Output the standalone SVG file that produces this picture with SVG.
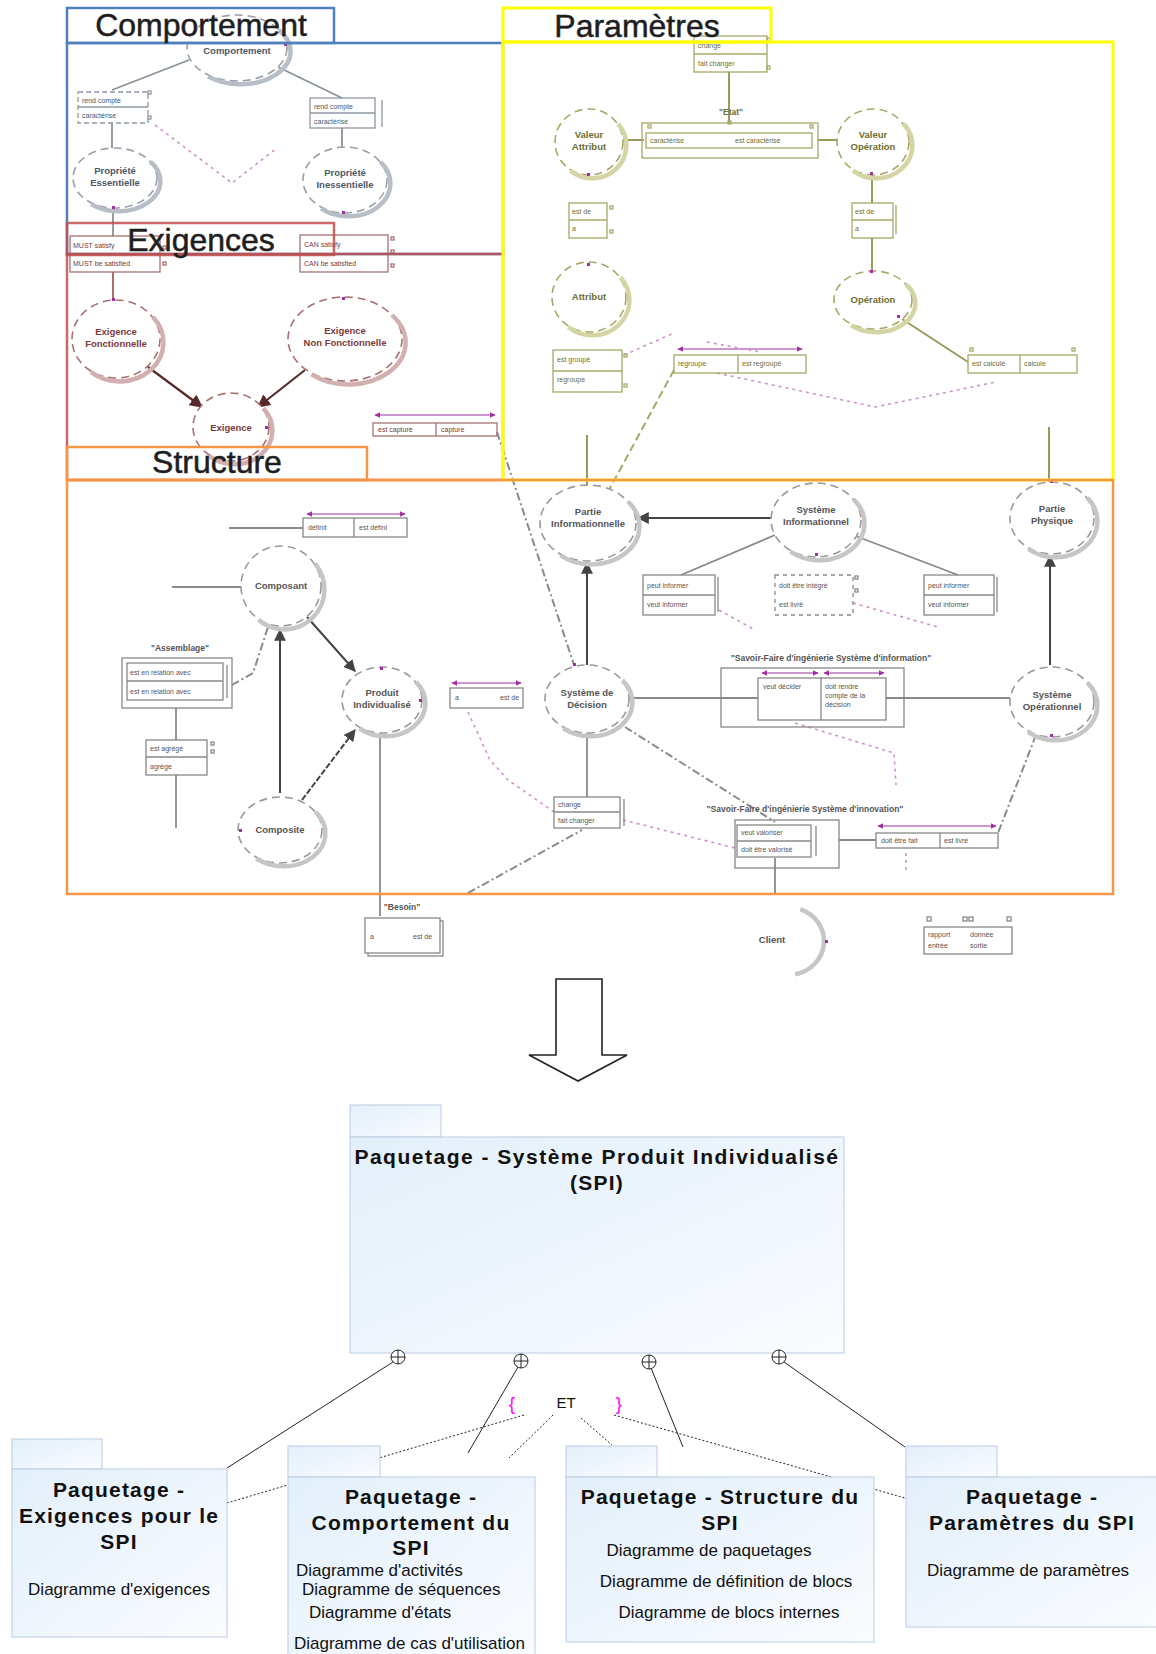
<svg xmlns="http://www.w3.org/2000/svg" width="1156" height="1654" viewBox="0 0 1156 1654">
<defs>
<linearGradient id="pkg" x1="0" y1="0" x2="1" y2="1"><stop offset="0" stop-color="#e2effa"/><stop offset="1" stop-color="#fafcff"/></linearGradient>
<marker id="ahd" viewBox="0 0 10 10" refX="9" refY="5" markerWidth="6" markerHeight="6" orient="auto"><path d="M0,0 L10,5 L0,10 z" fill="#444"/></marker>
<marker id="ahr" viewBox="0 0 10 10" refX="9" refY="5" markerWidth="6" markerHeight="6" orient="auto"><path d="M0,0 L10,5 L0,10 z" fill="#5a2a2a"/></marker>
<marker id="ahp" viewBox="0 0 10 10" refX="9" refY="5" markerWidth="5" markerHeight="5" orient="auto-start-reverse"><path d="M0,0 L10,5 L0,10 z" fill="#a030a0"/></marker>
</defs>
<style>
text{font-family:"Liberation Sans",Arial,sans-serif}
.big{font-size:32px;fill:#1e1e1e;stroke:#1e1e1e;stroke-width:0.5;text-anchor:middle}
.node .o{fill:#fff;stroke-width:1.6;stroke-dasharray:8 5}
.node .s{fill:none;stroke-width:4.5;vector-effect:non-scaling-stroke}
.node text{font-size:9.5px;font-weight:bold;text-anchor:middle}
.cmp .o{stroke:#9aa0a8}.cmp .s{stroke:#b8bec6}.cmp text{fill:#4d5866}
.exg .o{stroke:#a87070}.exg .s{stroke:#d2b0b0}.exg text{fill:#7a3a3a}
.par .o{stroke:#a8a868}.par .s{stroke:#d4d4a4}.par text{fill:#6e6e2e}
.str .o{stroke:#999}.str .s{stroke:#c6c6c6}.str text{fill:#555}
.rb rect,.rb line{fill:none;stroke-width:1.3}
.rb text{font-size:7px}
.rb.cmp rect,.rb.cmp line{stroke:#8f97a3}
.rb.exg rect,.rb.exg line{stroke:#a87070}
.rb.par rect,.rb.par line{stroke:#a8a868}
.rb.str rect,.rb.str line{stroke:#888}
.lbl{font-size:8.5px;font-weight:bold;text-anchor:middle;fill:#555}
.pm{fill:#a030a0}
.c-cmp{stroke:#8a929c;stroke-width:1.8;fill:none}
.c-exg{stroke:#a06060;stroke-width:1.8;fill:none}
.c-par{stroke:#9a9a5a;stroke-width:2;fill:none}
.c-str{stroke:#8a8a8a;stroke-width:1.8;fill:none}
.c-dark{stroke:#444;stroke-width:2;fill:none}
.c-pink{stroke:#d090d0;stroke-width:1.6;fill:none;stroke-dasharray:3 4}
.c-dd{stroke:#8a8a8a;stroke-width:2;fill:none;stroke-dasharray:8 3 2 3}
.c-pl{stroke:#a030a0;stroke-width:1.2;fill:none}
.pk{fill:url(#pkg);stroke:#bccbe2;stroke-width:1}
.pt{font-size:21px;font-weight:bold;fill:#111;text-anchor:middle;letter-spacing:1.2px}
.pd{font-size:17px;fill:#111}
.m{stroke:#222;stroke-width:1;fill:none}
.dot{stroke:#222;stroke-width:1;fill:none;stroke-dasharray:2 2}
</style>

<!-- ================= CONNECTORS ================= -->
<g id="connectors">
<!-- Comportement -->
<line class="c-cmp" x1="189" y1="60" x2="112" y2="90"/>
<line class="c-cmp" x1="278" y1="67" x2="342" y2="98"/>
<line class="c-cmp" x1="112" y1="123" x2="112" y2="148"/>
<line class="c-cmp" x1="342" y1="128" x2="342" y2="147"/>
<polyline class="c-pink" points="155,125 232,183 277,148"/>
<line class="c-cmp" x1="113" y1="208" x2="113" y2="236"/>
<!-- Exigences -->
<line class="c-exg" x1="113" y1="272" x2="113" y2="300"/>
<line x1="148" y1="367" x2="202" y2="407" stroke="#5a2a2a" stroke-width="2.2" marker-end="url(#ahr)"/>
<line x1="305" y1="370" x2="258" y2="407" stroke="#5a2a2a" stroke-width="2.2" marker-end="url(#ahr)"/>
<line class="c-pl" x1="375" y1="415" x2="495" y2="415" marker-start="url(#ahp)" marker-end="url(#ahp)"/>
<!-- Paramètres -->
<line class="c-par" x1="729" y1="72" x2="729" y2="123"/>
<line class="c-par" x1="622" y1="140" x2="644" y2="140"/>
<line class="c-par" x1="818" y1="140" x2="840" y2="140"/>
<line class="c-par" x1="872" y1="175" x2="872" y2="203"/>
<line class="c-par" x1="872" y1="238" x2="872" y2="271"/>
<line class="c-par" x1="899" y1="317" x2="968" y2="362"/>
<line class="c-pl" x1="678" y1="349" x2="802" y2="349" marker-start="url(#ahp)" marker-end="url(#ahp)"/>
<polyline class="c-pink" points="624,355 674,333"/>
<polyline class="c-pink" points="707,342 760,352"/>
<polyline class="c-pink" points="717,373 875,407 919,398 996,382"/>
<line class="c-par" x1="587" y1="435" x2="587" y2="485"/>
<line class="c-par" x1="1049" y1="427" x2="1049" y2="482"/>
<line x1="674" y1="370" x2="609" y2="490" stroke="#a8a868" stroke-width="2" stroke-dasharray="8 4"/>
<line class="c-dd" x1="497" y1="432" x2="574" y2="665"/>
<!-- Structure -->
<line class="c-str" x1="229" y1="528" x2="303" y2="528"/>
<line class="c-pl" x1="307" y1="514" x2="405" y2="514" marker-start="url(#ahp)" marker-end="url(#ahp)"/>
<line class="c-str" x1="172" y1="587" x2="241" y2="587"/>
<polyline class="c-dd" points="232,685 253,673 268,627"/>
<line class="c-str" x1="176" y1="708" x2="176" y2="740"/>
<line class="c-str" x1="176" y1="775" x2="176" y2="828"/>
<line class="c-dark" x1="307" y1="617" x2="355" y2="671" marker-end="url(#ahd)"/>
<line class="c-dark" x1="280" y1="793" x2="280" y2="630" marker-end="url(#ahd)"/>
<line class="c-dark" x1="302" y1="800" x2="355" y2="730" stroke-dasharray="6 2" marker-end="url(#ahd)"/>
<line class="c-str" x1="380" y1="733" x2="380" y2="916"/>
<line class="c-pl" x1="452" y1="683" x2="521" y2="683" marker-start="url(#ahp)" marker-end="url(#ahp)"/>
<polyline class="c-pink" points="468,712 490,760 508,780 554,812"/>
<line class="c-dd" x1="468" y1="893" x2="582" y2="830"/>
<line class="c-dark" x1="771" y1="518" x2="638" y2="518" marker-end="url(#ahd)"/>
<line class="c-dark" x1="587" y1="665" x2="587" y2="563" marker-end="url(#ahd)"/>
<line class="c-dark" x1="1050" y1="665" x2="1050" y2="556" marker-end="url(#ahd)"/>
<line class="c-str" x1="775" y1="535" x2="681" y2="575"/>
<line class="c-str" x1="853" y1="535" x2="958" y2="575"/>
<polyline class="c-pink" points="719,610 755,630"/>
<polyline class="c-pink" points="853,603 938,627"/>
<line class="c-str" x1="629" y1="698" x2="758" y2="698"/>
<line class="c-str" x1="886" y1="698" x2="1010" y2="698"/>
<polyline class="c-pink" points="795,723 894,753 896,785"/>
<line class="c-str" x1="587" y1="733" x2="587" y2="797"/>
<line class="c-dd" x1="625" y1="727" x2="775" y2="822"/>
<polyline class="c-pink" points="623,820 735,848"/>
<line class="c-str" x1="839" y1="840" x2="876" y2="840"/>
<line class="c-pl" x1="878" y1="826" x2="996" y2="826" marker-start="url(#ahp)" marker-end="url(#ahp)"/>
<line class="c-dd" x1="1036" y1="735" x2="998" y2="833"/>
<line class="c-str" x1="775" y1="858" x2="775" y2="893"/>
<polyline class="c-pink" points="906,853 906,873"/>
<line class="c-pl" x1="762" y1="673" x2="818" y2="673" marker-start="url(#ahp)" marker-end="url(#ahp)"/>
<line class="c-pl" x1="824" y1="673" x2="884" y2="673" marker-start="url(#ahp)" marker-end="url(#ahp)"/>
<line class="c-pl" x1="368" y1="922" x2="437" y2="922" stroke-dasharray="6 10" marker-start="url(#ahp)" marker-end="url(#ahp)"/>
<!-- Bottom package tree -->
<line class="m" x1="393" y1="1362" x2="227" y2="1468"/>
<line class="m" x1="518" y1="1367" x2="468" y2="1453"/>
<line class="m" x1="651" y1="1368" x2="683" y2="1447"/>
<line class="m" x1="784" y1="1362" x2="905" y2="1447"/>
<line class="dot" x1="524" y1="1415" x2="227" y2="1503"/>
<line class="dot" x1="553" y1="1415" x2="509" y2="1458"/>
<line class="dot" x1="581" y1="1418" x2="612" y2="1445"/>
<line class="dot" x1="614" y1="1415" x2="905" y2="1498"/>
</g>

<!-- ================= NODES ================= -->
<g id="n-comportement" class="node cmp"><ellipse class="o" cx="237" cy="48" rx="50" ry="33"/><path class="s" d="M0.77,-0.64 A1,1 0 0 1 -0.64,0.77" transform="translate(240,51) scale(50,33)"/><text x="237" y="54">Comportement</text></g>
<g id="n-prop-ess" class="node cmp"><ellipse class="o" cx="115" cy="178" rx="42" ry="30"/><path class="s" d="M0.77,-0.64 A1,1 0 0 1 -0.64,0.77" transform="translate(118,181) scale(42,30)"/><text x="115" y="174">Propriété</text><text x="115" y="186">Essentielle</text></g>
<g id="n-prop-iness" class="node cmp"><ellipse class="o" cx="345" cy="180" rx="42" ry="33"/><path class="s" d="M0.77,-0.64 A1,1 0 0 1 -0.64,0.77" transform="translate(348,183) scale(42,33)"/><text x="345" y="176">Propriété</text><text x="345" y="188">Inessentielle</text></g>

<g id="n-exig-fonc" class="node exg"><ellipse class="o" cx="116" cy="339" rx="44" ry="39"/><path class="s" d="M0.77,-0.64 A1,1 0 0 1 -0.64,0.77" transform="translate(119,342) scale(44,39)"/><text x="116" y="335">Exigence</text><text x="116" y="347">Fonctionnelle</text></g>
<g id="n-exig-nonfonc" class="node exg"><ellipse class="o" cx="345" cy="339" rx="57" ry="42"/><path class="s" d="M0.77,-0.64 A1,1 0 0 1 -0.64,0.77" transform="translate(348,342) scale(57,42)"/><text x="345" y="334">Exigence</text><text x="345" y="346">Non Fonctionnelle</text></g>
<g id="n-exigence" class="node exg"><ellipse class="o" cx="231" cy="427" rx="38" ry="34"/><path class="s" d="M0.77,-0.64 A1,1 0 0 1 -0.64,0.77" transform="translate(234,430) scale(38,34)"/><text x="231" y="431">Exigence</text></g>

<g id="n-val-attr" class="node par"><ellipse class="o" cx="589" cy="142" rx="34" ry="33"/><path class="s" d="M0.77,-0.64 A1,1 0 0 1 -0.64,0.77" transform="translate(592,145) scale(34,33)"/><text x="589" y="138">Valeur</text><text x="589" y="150">Attribut</text></g>
<g id="n-val-op" class="node par"><ellipse class="o" cx="873" cy="142" rx="36" ry="33"/><path class="s" d="M0.77,-0.64 A1,1 0 0 1 -0.64,0.77" transform="translate(876,145) scale(36,33)"/><text x="873" y="138">Valeur</text><text x="873" y="150">Opération</text></g>
<g id="n-attribut" class="node par"><ellipse class="o" cx="589" cy="297" rx="37" ry="35"/><path class="s" d="M0.77,-0.64 A1,1 0 0 1 -0.64,0.77" transform="translate(592,300) scale(37,35)"/><text x="589" y="300">Attribut</text></g>
<g id="n-operation" class="node par"><ellipse class="o" cx="873" cy="300" rx="39" ry="29"/><path class="s" d="M0.77,-0.64 A1,1 0 0 1 -0.64,0.77" transform="translate(876,303) scale(39,29)"/><text x="873" y="303">Opération</text></g>

<g id="n-composant" class="node str"><ellipse class="o" cx="281" cy="586" rx="40" ry="40"/><path class="s" d="M0.77,-0.64 A1,1 0 0 1 -0.64,0.77" transform="translate(284,589) scale(40,40)"/><text x="281" y="589">Composant</text></g>
<g id="n-produit" class="node str"><ellipse class="o" cx="382" cy="700" rx="40" ry="33"/><path class="s" d="M0.77,-0.64 A1,1 0 0 1 -0.64,0.77" transform="translate(385,703) scale(40,33)"/><text x="382" y="696">Produit</text><text x="382" y="708">Individualisé</text></g>
<g id="n-composite" class="node str"><ellipse class="o" cx="280" cy="830" rx="42" ry="33"/><path class="s" d="M0.77,-0.64 A1,1 0 0 1 -0.64,0.77" transform="translate(283,833) scale(42,33)"/><text x="280" y="833">Composite</text></g>
<g id="n-partie-inf" class="node str"><ellipse class="o" cx="588" cy="523" rx="48" ry="38"/><path class="s" d="M0.77,-0.64 A1,1 0 0 1 -0.64,0.77" transform="translate(591,526) scale(48,38)"/><text x="588" y="515">Partie</text><text x="588" y="527">Informationnelle</text></g>
<g id="n-sys-inf" class="node str"><ellipse class="o" cx="816" cy="520" rx="45" ry="37"/><path class="s" d="M0.77,-0.64 A1,1 0 0 1 -0.64,0.77" transform="translate(819,523) scale(45,37)"/><text x="816" y="513">Système</text><text x="816" y="525">Informationnel</text></g>
<g id="n-partie-phys" class="node str"><ellipse class="o" cx="1052" cy="518" rx="42" ry="36"/><path class="s" d="M0.77,-0.64 A1,1 0 0 1 -0.64,0.77" transform="translate(1055,521) scale(42,36)"/><text x="1052" y="512">Partie</text><text x="1052" y="524">Physique</text></g>
<g id="n-sys-dec" class="node str"><ellipse class="o" cx="587" cy="699" rx="42" ry="34"/><path class="s" d="M0.77,-0.64 A1,1 0 0 1 -0.64,0.77" transform="translate(590,702) scale(42,34)"/><text x="587" y="696">Système de</text><text x="587" y="708">Décision</text></g>
<g id="n-sys-op" class="node str"><ellipse class="o" cx="1052" cy="702" rx="42" ry="35"/><path class="s" d="M0.77,-0.64 A1,1 0 0 1 -0.64,0.77" transform="translate(1055,705) scale(42,35)"/><text x="1052" y="698">Système</text><text x="1052" y="710">Opérationnel</text></g>
<g id="n-client" class="node str"><path class="s" d="M0.34,-0.94 A1,1 0 0 1 0.2,0.98" transform="translate(788,941) scale(36,34)"/><text x="772" y="943">Client</text></g>

<!-- ================= ROLE BOXES ================= -->
<g id="rb-cmp-a" class="rb cmp"><rect x="78" y="92" width="70" height="31" stroke-dasharray="5 3"/><line x1="78" y1="107" x2="148" y2="107"/><text x="82" y="103" fill="#6b7585">rend compte</text><text x="82" y="118" fill="#6b7585">caractérise</text><rect class="pm" x="148" y="91" width="3" height="3" stroke="none"/><rect class="pm" x="148" y="116" width="3" height="3" stroke="none"/></g>
<g id="rb-cmp-b" class="rb cmp"><rect x="310" y="98" width="65" height="30"/><line x1="310" y1="113" x2="375" y2="113"/><text x="314" y="109" fill="#6b7585">rend compte</text><text x="314" y="124" fill="#6b7585">caractérise</text><line x1="382" y1="100" x2="382" y2="127" stroke="#a030a0" stroke-width="1.5"/></g>

<g id="rb-must" class="rb exg"><rect x="70" y="236" width="90" height="36"/><line x1="70" y1="254" x2="160" y2="254"/><text x="73" y="248" fill="#9a5a5a">MUST satisfy</text><text x="73" y="266" fill="#9a5a5a">MUST be satisfied</text><rect class="pm" x="163" y="246" width="3" height="3"/><rect class="pm" x="163" y="262" width="3" height="3"/></g>
<g id="rb-can" class="rb exg"><rect x="300" y="235" width="88" height="37"/><line x1="300" y1="254" x2="388" y2="254"/><text x="304" y="247" fill="#9a5a5a">CAN satisfy</text><text x="304" y="266" fill="#9a5a5a">CAN be satisfied</text><rect class="pm" x="391" y="237" width="3" height="3"/><rect class="pm" x="391" y="250" width="3" height="3"/><rect class="pm" x="391" y="264" width="3" height="3"/></g>
<g id="rb-capture" class="rb exg"><rect x="373" y="423" width="124" height="13"/><line x1="436" y1="423" x2="436" y2="436"/><text x="378" y="432" fill="#9a5a5a">est capturé</text><text x="441" y="432" fill="#9a5a5a">capture</text></g>

<g id="rb-change-p" class="rb par"><rect x="694" y="36" width="73" height="36"/><line x1="694" y1="54" x2="767" y2="54"/><text x="698" y="48" fill="#7a7a3a">change</text><text x="698" y="66" fill="#7a7a3a">fait changer</text><rect class="pm" x="767" y="38" width="3" height="3"/><rect class="pm" x="767" y="66" width="3" height="3"/></g>
<text x="731" y="115" class="lbl" style="fill:#6e6e2e">"Etat"</text>
<g id="rb-etat" class="rb par"><rect x="642" y="123" width="176" height="35"/><rect x="646" y="133" width="166" height="15"/><text x="650" y="143" fill="#7a7a3a">caractérise</text><text x="735" y="143" fill="#7a7a3a">est caractérisé</text><rect class="pm" x="648" y="125" width="3" height="3"/><rect class="pm" x="810" y="125" width="3" height="3"/><rect class="pm" x="728" y="121" width="3" height="3"/></g>
<g id="rb-a1" class="rb par"><rect x="569" y="203" width="38" height="35"/><line x1="569" y1="220" x2="607" y2="220"/><text x="572" y="214" fill="#7a7a3a">est de</text><text x="572" y="231" fill="#7a7a3a">a</text><rect class="pm" x="610" y="206" width="3" height="3"/><rect class="pm" x="610" y="230" width="3" height="3"/></g>
<g id="rb-a2" class="rb par"><rect x="852" y="203" width="41" height="35"/><line x1="852" y1="220" x2="893" y2="220"/><text x="855" y="214" fill="#7a7a3a">est de</text><text x="855" y="231" fill="#7a7a3a">a</text><line x1="896" y1="205" x2="896" y2="234" stroke="#b06060" stroke-width="1.2"/></g>
<g id="rb-groupe" class="rb par"><rect x="553" y="350" width="69" height="42"/><line x1="553" y1="371" x2="622" y2="371"/><text x="557" y="362" fill="#7a7a3a">est groupé</text><text x="557" y="382" fill="#7a7a3a">regroupe</text><rect class="pm" x="624" y="354" width="3" height="3"/><rect class="pm" x="624" y="384" width="3" height="3"/></g>
<g id="rb-regroupe" class="rb par"><rect x="674" y="355" width="132" height="18"/><line x1="738" y1="355" x2="738" y2="373"/><text x="678" y="366" fill="#7a7a3a">regroupe</text><text x="742" y="366" fill="#7a7a3a">est regroupé</text></g>
<g id="rb-calcule" class="rb par"><rect x="968" y="355" width="109" height="18"/><line x1="1020" y1="355" x2="1020" y2="373"/><text x="972" y="366" fill="#7a7a3a">est calculé</text><text x="1024" y="366" fill="#7a7a3a">calcule</text><rect class="pm" x="970" y="348" width="3" height="3"/><rect class="pm" x="1072" y="348" width="3" height="3"/></g>

<g id="rb-definit" class="rb str"><rect x="303" y="518" width="104" height="19"/><line x1="354" y1="518" x2="354" y2="537"/><text x="308" y="530" fill="#777">définit</text><text x="359" y="530" fill="#777">est défini</text></g>
<text x="180" y="651" class="lbl">"Assemblage"</text>
<g id="rb-assemblage" class="rb str"><rect x="122" y="658" width="110" height="50"/><rect x="127" y="663" width="96" height="37"/><line x1="127" y1="681" x2="223" y2="681"/><text x="130" y="675" fill="#777">est en relation avec</text><text x="130" y="694" fill="#777">est en relation avec</text><line x1="227" y1="665" x2="227" y2="698" stroke="#a030a0" stroke-width="1.2"/></g>
<g id="rb-agrege" class="rb str"><rect x="146" y="740" width="61" height="35"/><line x1="146" y1="757" x2="207" y2="757"/><text x="150" y="751" fill="#777">est agrégé</text><text x="150" y="769" fill="#777">agrège</text><rect class="pm" x="211" y="742" width="3" height="3"/><rect class="pm" x="211" y="750" width="3" height="3"/></g>
<g id="rb-a-estde" class="rb str"><rect x="450" y="688" width="73" height="20"/><text x="455" y="700" fill="#777">a</text><text x="500" y="700" fill="#777">est de</text></g>
<text x="402" y="910" class="lbl">"Besoin"</text>
<g id="rb-besoin" class="rb str"><rect x="368" y="921" width="75" height="35" stroke="#bbb"/><rect x="365" y="918" width="75" height="35" style="fill:#fff"/><text x="370" y="939" fill="#777">a</text><text x="413" y="939" fill="#777">est de</text></g>
<g id="rb-informer1" class="rb str"><rect x="643" y="575" width="72" height="40"/><line x1="643" y1="595" x2="715" y2="595"/><text x="647" y="588" fill="#a06060">peut informer</text><text x="647" y="607" fill="#777">veut informer</text><line x1="718" y1="577" x2="718" y2="612" stroke="#a030a0" stroke-width="1.2"/></g>
<g id="rb-integre" class="rb str"><rect x="775" y="575" width="78" height="40" stroke-dasharray="4 4"/><text x="779" y="588" fill="#777">doit être intégré</text><text x="779" y="607" fill="#777">est livré</text><rect class="pm" x="855" y="576" width="3" height="3"/><rect class="pm" x="855" y="589" width="3" height="3"/></g>
<g id="rb-informer2" class="rb str"><rect x="924" y="575" width="70" height="40"/><line x1="924" y1="595" x2="994" y2="595"/><text x="928" y="588" fill="#a06060">peut informer</text><text x="928" y="607" fill="#777">veut informer</text><line x1="997" y1="577" x2="997" y2="612" stroke="#a030a0" stroke-width="1.2"/></g>
<text x="831" y="661" class="lbl">"Savoir-Faire d'ingénierie Système d'information"</text>
<g id="rb-sf-info" class="rb str"><rect x="721" y="668" width="183" height="59"/><rect x="758" y="678" width="128" height="42"/><line x1="821" y1="678" x2="821" y2="720"/><text x="763" y="689" fill="#777">veut décider</text><text x="825" y="689" fill="#777">doit rendre</text><text x="825" y="698" fill="#777">compte de la</text><text x="825" y="707" fill="#777">décision</text></g>
<g id="rb-change-s" class="rb str"><rect x="554" y="797" width="66" height="31"/><line x1="554" y1="812" x2="620" y2="812"/><text x="558" y="807" fill="#777">change</text><text x="558" y="823" fill="#777">fait changer</text><line x1="624" y1="799" x2="624" y2="826" stroke="#a030a0" stroke-width="1.5"/></g>
<text x="805" y="812" class="lbl">"Savoir-Faire d'ingénierie Système d'innovation"</text>
<g id="rb-sf-innov" class="rb str"><rect x="735" y="820" width="104" height="48"/><rect x="737" y="825" width="74" height="32"/><line x1="737" y1="841" x2="811" y2="841"/><text x="741" y="835" fill="#777">veut valoriser</text><text x="741" y="852" fill="#777">doit être valorisé</text><line x1="816" y1="826" x2="816" y2="856" stroke="#a030a0" stroke-width="1.5"/></g>
<g id="rb-fait" class="rb str"><rect x="876" y="833" width="122" height="15"/><line x1="940" y1="833" x2="940" y2="848"/><text x="881" y="843" fill="#777">doit être fait</text><text x="944" y="843" fill="#777">est livré</text></g>
<g id="rb-legend" class="rb str"><rect x="924" y="927" width="88" height="27"/><text x="928" y="937" fill="#777">rapport</text><text x="928" y="948" fill="#777">entrée</text><text x="970" y="937" fill="#777">donnée</text><text x="970" y="948" fill="#777">sortie</text><rect class="pm" x="927" y="917" width="4" height="4"/><rect class="pm" x="963" y="917" width="4" height="4"/><rect class="pm" x="969" y="917" width="4" height="4"/><rect class="pm" x="1007" y="917" width="4" height="4"/></g>

<!-- purple endpoint dots -->
<g class="pm">
<rect x="284" y="43" width="3" height="3"/><rect x="112" y="206" width="3" height="3"/><rect x="342" y="211" width="3" height="3"/>
<rect x="112" y="298" width="3" height="3"/><rect x="342" y="297" width="3" height="3"/><rect x="265" y="426" width="3" height="3"/>
<rect x="587" y="173" width="3" height="3"/><rect x="587" y="263" width="3" height="3"/><rect x="870" y="172" width="3" height="3"/><rect x="870" y="270" width="3" height="3"/><rect x="897" y="315" width="3" height="3"/>
<rect x="815" y="553" width="3" height="3"/><rect x="1050" y="480" width="3" height="3"/><rect x="1050" y="734" width="3" height="3"/><rect x="573" y="663" width="3" height="3"/>
<rect x="380" y="667" width="3" height="3"/><rect x="419" y="699" width="3" height="3"/><rect x="239" y="829" width="3" height="3"/><rect x="825" y="940" width="3" height="3"/>
</g>

<!-- ================= FRAMES ================= -->
<g id="frames" fill="none">
<rect x="67" y="43" width="436" height="211" stroke="#4f81bd" stroke-width="2.5"/>
<rect x="67" y="254" width="436" height="226" stroke="#c0504d" stroke-width="2.5" opacity="0.85"/>
<rect x="503" y="42" width="610" height="438" stroke="#ffff00" stroke-width="3"/>
<rect x="67" y="480" width="1046" height="414" stroke="#f79646" stroke-width="2.5"/>
<rect x="67" y="8" width="267" height="35" stroke="#4f81bd" stroke-width="2.5"/>
<rect x="67" y="223" width="267" height="32" stroke="#c0504d" stroke-width="2.5" opacity="0.85"/>
<rect x="503" y="8" width="268" height="34" stroke="#ffff00" stroke-width="3"/>
<rect x="67" y="447" width="300" height="33" stroke="#f79646" stroke-width="2.5"/>
</g>
<text class="big" x="201" y="36">Comportement</text>
<text class="big" x="637" y="37">Paramètres</text>
<text class="big" x="201" y="251">Exigences</text>
<text class="big" x="217" y="473">Structure</text>

<!-- ================= TRANSFORMATION ARROW ================= -->
<polygon id="big-arrow" points="556,979 602,979 602,1055 627,1055 578,1081 529,1055 556,1055" fill="#fff" stroke="#222" stroke-width="1.6"/>

<!-- ================= PACKAGES ================= -->
<g id="pkg-spi"><rect class="pk" x="350" y="1105" width="91" height="32"/><rect class="pk" x="350" y="1137" width="494" height="216"/>
<text class="pt" x="597" y="1164" style="letter-spacing:1.5px">Paquetage - Système Produit Individualisé</text><text class="pt" x="597" y="1190">(SPI)</text></g>
<g id="pkg-exig"><rect class="pk" x="12" y="1439" width="90" height="30"/><rect class="pk" x="12" y="1469" width="215" height="168"/>
<text class="pt" x="119" y="1497">Paquetage -</text><text class="pt" x="119" y="1523">Exigences pour le</text><text class="pt" x="119" y="1549">SPI</text>
<text class="pd" x="119" y="1595" text-anchor="middle">Diagramme d'exigences</text></g>
<g id="pkg-comp"><rect class="pk" x="288" y="1446" width="92" height="31"/><rect class="pk" x="288" y="1477" width="247" height="180"/>
<text class="pt" x="411" y="1504">Paquetage -</text><text class="pt" x="411" y="1530">Comportement du</text><text class="pt" x="411" y="1555">SPI</text>
<text class="pd" x="296" y="1576">Diagramme d'activités</text><text class="pd" x="302" y="1595">Diagramme de séquences</text><text class="pd" x="309" y="1618">Diagramme d'états</text><text class="pd" x="294" y="1649">Diagramme de cas d'utilisation</text></g>
<g id="pkg-struct"><rect class="pk" x="566" y="1446" width="91" height="31"/><rect class="pk" x="566" y="1477" width="308" height="165"/>
<text class="pt" x="720" y="1504">Paquetage - Structure du</text><text class="pt" x="720" y="1530">SPI</text>
<text class="pd" x="709" y="1556" text-anchor="middle">Diagramme de paquetages</text><text class="pd" x="726" y="1587" text-anchor="middle">Diagramme de définition de blocs</text><text class="pd" x="729" y="1618" text-anchor="middle">Diagramme de blocs internes</text></g>
<g id="pkg-param"><rect class="pk" x="906" y="1446" width="91" height="31"/><rect class="pk" x="906" y="1477" width="252" height="150"/>
<text class="pt" x="1032" y="1504">Paquetage -</text><text class="pt" x="1032" y="1530">Paramètres du SPI</text>
<text class="pd" x="1028" y="1576" text-anchor="middle">Diagramme de paramètres</text></g>

<!-- containment symbols -->
<g id="contain" fill="#fff" stroke="#222" stroke-width="1">
<circle cx="398" cy="1357" r="7"/><path d="M391,1357 H405 M398,1350 V1364"/>
<circle cx="521" cy="1361" r="7"/><path d="M514,1361 H528 M521,1354 V1368"/>
<circle cx="649" cy="1362" r="7"/><path d="M642,1362 H656 M649,1355 V1369"/>
<circle cx="779" cy="1357" r="7"/><path d="M772,1357 H786 M779,1350 V1364"/>
</g>
<text x="512" y="1410" font-size="19" fill="#ff00ff" text-anchor="middle">{</text>
<text x="566" y="1408" font-size="15" fill="#111" text-anchor="middle">ET</text>
<text x="619" y="1410" font-size="19" fill="#ff00ff" text-anchor="middle">}</text>
</svg>
